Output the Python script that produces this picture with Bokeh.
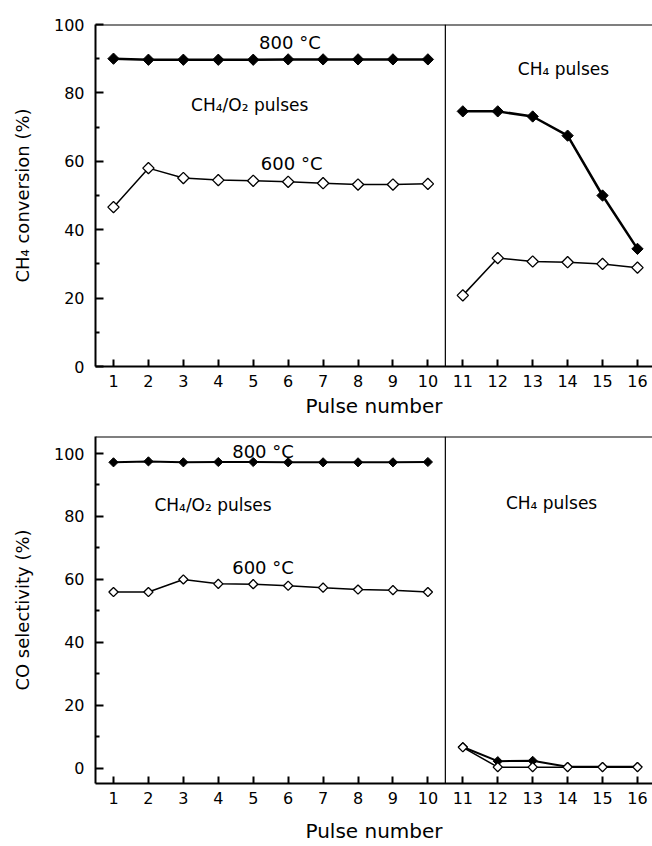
import math
from bokeh.plotting import figure
from bokeh.models import Range1d, FixedTicker, Span, Label
from bokeh.layouts import column
from bokeh.embed import file_html
from bokeh.resources import INLINE

# ---- data ----
pulses_mix = [1, 2, 3, 4, 5, 6, 7, 8, 9, 10]
pulses_ch4 = [11, 12, 13, 14, 15, 16]
x_ticks = [1, 2, 3, 4, 5, 6, 7, 8, 9, 10, 11, 12, 13, 14, 15, 16]

conv_800_mix = [90.0, 89.7, 89.7, 89.7, 89.7, 89.8, 89.8, 89.8, 89.8, 89.8]
conv_600_mix = [46.6, 58.0, 55.1, 54.5, 54.3, 54.0, 53.6, 53.2, 53.2, 53.4]
conv_800_ch4 = [74.6, 74.6, 73.1, 67.5, 50.0, 34.4]
conv_600_ch4 = [20.8, 31.7, 30.7, 30.5, 30.0, 28.9]

sel_800_mix = [97.2, 97.5, 97.2, 97.3, 97.3, 97.2, 97.2, 97.2, 97.2, 97.3]
sel_600_mix = [56.0, 56.0, 60.0, 58.6, 58.5, 58.0, 57.4, 56.8, 56.6, 56.0]
sel_800_ch4 = [6.8, 2.3, 2.4, 0.5, 0.5, 0.5]
sel_600_ch4 = [6.7, 0.4, 0.4, 0.4, 0.4, 0.4]

y_major = [0, 20, 40, 60, 80, 100]
y_minor = [10, 30, 50, 70, 90]

FONT = "DejaVu Sans"


def make_panel(ylabel, y_start, y_end, frame_h, border_top, border_bottom, xlabel_standoff,
               s800_mix, s600_mix, s800_ch4, s600_ch4, msize, lw800, labels):
    p = figure(frame_width=557, frame_height=frame_h,
               x_range=Range1d(0.485, 16.43), y_range=Range1d(y_start, y_end),
               output_backend="svg", toolbar_location=None,
               min_border_left=95, min_border_right=0, min_border_top=border_top,
               min_border_bottom=border_bottom, background_fill_color="white",
               border_fill_color="white")
    p.outline_line_color = None
    p.xgrid.visible = False
    p.ygrid.visible = False

    xa = p.xaxis[0]
    xa.ticker = FixedTicker(ticks=x_ticks)
    xa.major_tick_in = 7
    xa.major_tick_out = 0
    xa.major_tick_line_width = 2
    xa.minor_tick_line_color = None
    xa.axis_line_width = 2
    xa.major_label_text_font = FONT
    xa.major_label_text_font_size = "16px"
    xa.major_label_text_color = "black"
    xa.major_label_standoff = 8
    xa.axis_label = "Pulse number"
    xa.axis_label_text_font = FONT
    xa.axis_label_text_font_size = "20px"
    xa.axis_label_text_font_style = "normal"
    xa.axis_label_text_color = "black"
    xa.axis_label_standoff = xlabel_standoff

    ya = p.yaxis[0]
    ya.ticker = FixedTicker(ticks=y_major, minor_ticks=y_minor)
    ya.major_tick_in = 8
    ya.major_tick_out = 0
    ya.minor_tick_in = 4
    ya.minor_tick_out = 0
    ya.major_tick_line_width = 2
    ya.minor_tick_line_width = 2
    ya.axis_line_width = 2
    ya.major_label_text_font = FONT
    ya.major_label_text_font_size = "16px"
    ya.major_label_text_color = "black"
    ya.major_label_standoff = 11
    ya.axis_label = ylabel
    ya.axis_label_text_font = FONT
    ya.axis_label_text_font_size = "18px"
    ya.axis_label_text_font_style = "normal"
    ya.axis_label_text_color = "black"
    ya.axis_label_standoff = 18

    p.add_layout(Span(location=y_end, dimension="width", line_color="black", line_width=2))
    p.add_layout(Span(location=10.5, dimension="height", line_color="black", line_width=1.2))

    ang = math.pi / 4
    for xs, ys in ((pulses_mix, s800_mix), (pulses_ch4, s800_ch4)):
        p.line(xs, ys, line_color="black", line_width=lw800)
        p.scatter(xs, ys, marker="square", angle=ang, size=msize,
                  fill_color="black", line_color="black", line_width=1)
    for xs, ys in ((pulses_mix, s600_mix), (pulses_ch4, s600_ch4)):
        p.line(xs, ys, line_color="black", line_width=1.5)
        p.scatter(xs, ys, marker="square", angle=ang, size=msize,
                  fill_color="white", line_color="black", line_width=1.3)

    for (lx, ly, txt, fs) in labels:
        p.add_layout(Label(x=lx, y=ly, text=txt, text_align="center",
                           text_baseline="middle", text_font=FONT,
                           text_font_size=fs, text_color="black"))
    return p


top = make_panel("CH\u2084 conversion (%)", 0, 100, 342, 24, 52, 4,
                 conv_800_mix, conv_600_mix, conv_800_ch4, conv_600_ch4,
                 8, 2.5,
                 [(6.05, 94.7, "800 \u00b0C", "18px"),
                  (4.9, 76.6, "CH\u2084/O\u2082 pulses", "17px"),
                  (6.1, 59.4, "600 \u00b0C", "18px"),
                  (13.88, 87.1, "CH\u2084 pulses", "17px")])

bottom = make_panel("CO selectivity (%)", -4.8, 105.4, 347, 16, 63, 12,
                    sel_800_mix, sel_600_mix, sel_800_ch4, sel_600_ch4,
                    6.5, 2,
                    [(5.28, 100.7, "800 \u00b0C", "18px"),
                     (3.85, 83.6, "CH\u2084/O\u2082 pulses", "17px"),
                     (5.28, 63.7, "600 \u00b0C", "18px"),
                     (13.54, 84.3, "CH\u2084 pulses", "17px")])

layout = column(top, bottom, spacing=0)
open("out.html", "w").write(file_html(layout, INLINE))
